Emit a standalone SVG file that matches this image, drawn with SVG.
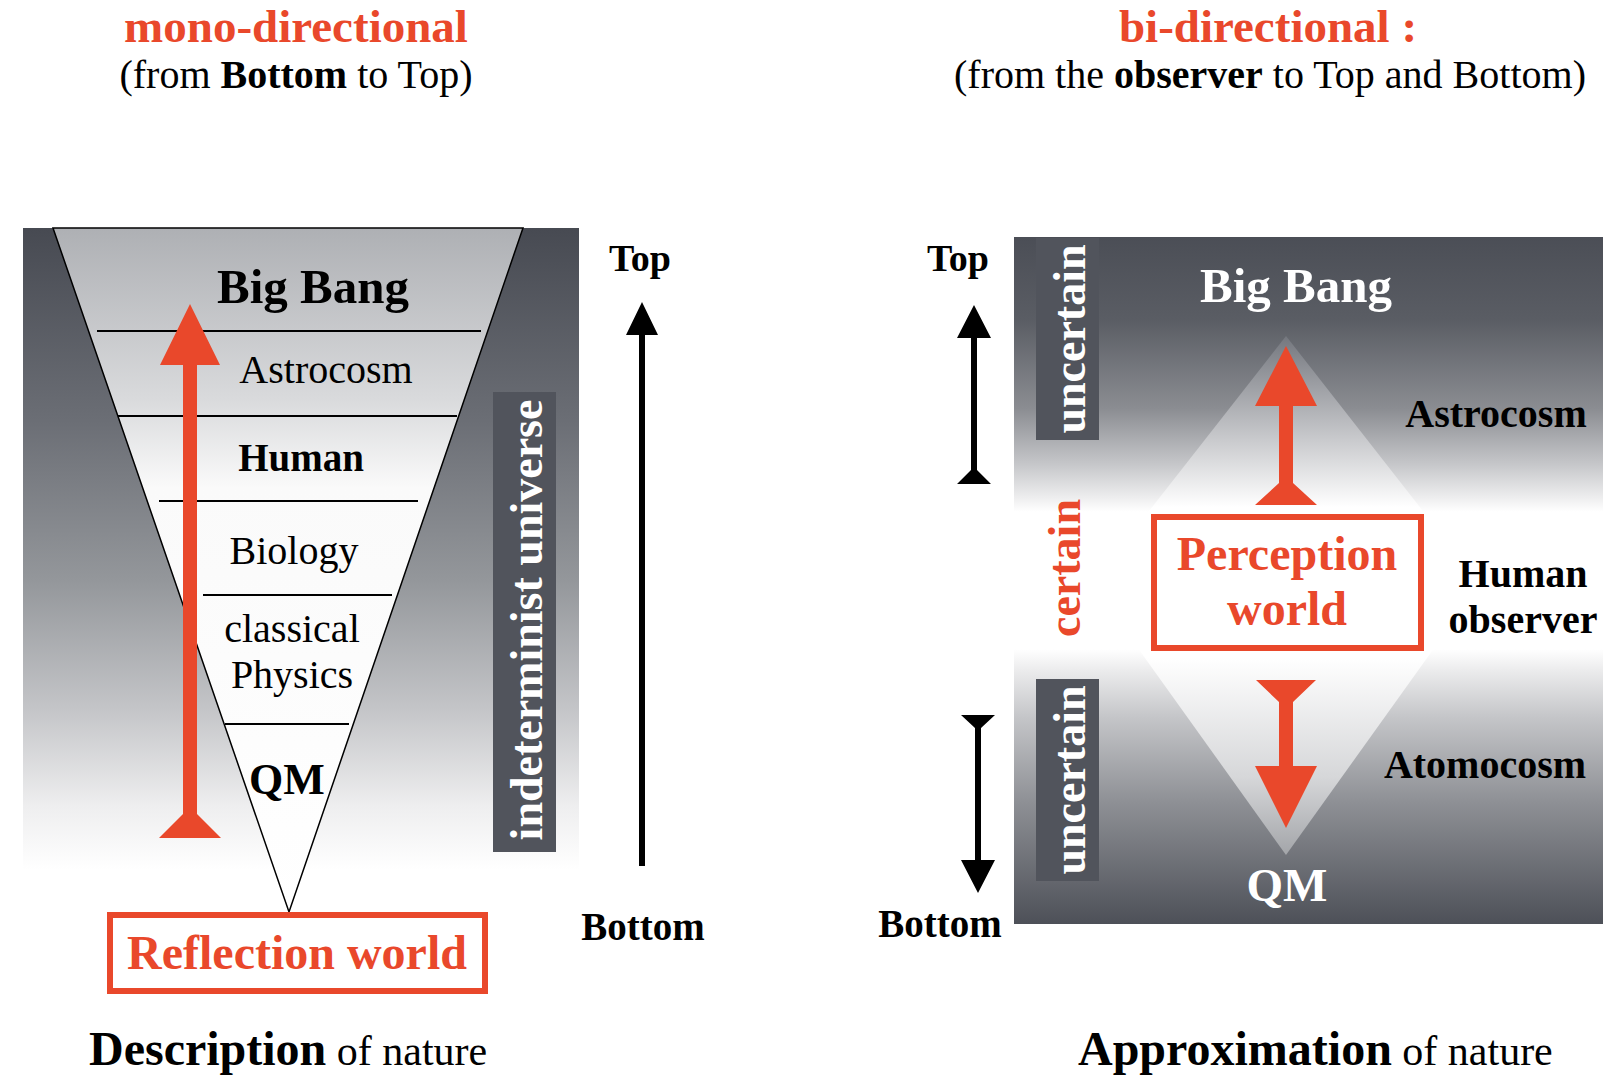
<svg xmlns="http://www.w3.org/2000/svg" width="1606" height="1075" viewBox="0 0 1606 1075">
<style>
text{font-family:"Liberation Serif","Times New Roman",serif;fill:#000}
.b{font-weight:bold}
.red{fill:#e9482b}
.wht{fill:#fff}
.mid{text-anchor:middle}
.lbl{font-size:40px}
.sub{font-size:40px}
.big{font-size:48px}
.ttl{font-size:47px}
.gbox{fill:#51545c}
.hline{stroke:#000;stroke-width:2}
.rbox{fill:#fff;stroke:#e9482b;stroke-width:6}
.rarrow{fill:#e9482b}
.karrow{fill:#000}
</style>
<defs>
<linearGradient id="gLeft" gradientUnits="userSpaceOnUse" x1="0" y1="228" x2="0" y2="870">
<stop offset="0" stop-color="#474a52"/>
<stop offset="0.3" stop-color="#6b6e75"/>
<stop offset="0.55" stop-color="#94979b"/>
<stop offset="0.75" stop-color="#c4c5c8"/>
<stop offset="0.9" stop-color="#eeeeef"/>
<stop offset="1" stop-color="#ffffff"/>
</linearGradient>
<linearGradient id="gFunnel" gradientUnits="userSpaceOnUse" x1="0" y1="228" x2="0" y2="912">
<stop offset="0" stop-color="#aeb0b4"/>
<stop offset="0.25" stop-color="#d9dadc"/>
<stop offset="0.38" stop-color="#fafafa"/>
<stop offset="1" stop-color="#ffffff"/>
</linearGradient>
<linearGradient id="gRight" gradientUnits="userSpaceOnUse" x1="0" y1="237" x2="0" y2="924">
<stop offset="0" stop-color="#4b4e56"/>
<stop offset="0.12" stop-color="#5a5d64"/>
<stop offset="0.25" stop-color="#8b8d92"/>
<stop offset="0.33" stop-color="#c5c6c9"/>
<stop offset="0.38" stop-color="#eeeeef"/>
<stop offset="0.4" stop-color="#ffffff"/>
<stop offset="0.6" stop-color="#ffffff"/>
<stop offset="0.63" stop-color="#ececed"/>
<stop offset="0.7" stop-color="#c4c5c8"/>
<stop offset="0.82" stop-color="#8f9196"/>
<stop offset="1" stop-color="#4d5058"/>
</linearGradient>
<linearGradient id="gDiamond" gradientUnits="userSpaceOnUse" x1="0" y1="336" x2="0" y2="855">
<stop offset="0" stop-color="#74777e"/>
<stop offset="0.2" stop-color="#c9cacd"/>
<stop offset="0.33" stop-color="#ffffff"/>
<stop offset="0.62" stop-color="#ffffff"/>
<stop offset="0.85" stop-color="#d6d7d9"/>
<stop offset="1" stop-color="#a3a5a9"/>
</linearGradient>
</defs>
<rect width="1606" height="1075" fill="#fff"/>

<!-- titles -->
<g id="title-left">
<text x="296" y="42" class="b red mid ttl">mono-directional</text>
<text x="296" y="88" class="mid sub">(from <tspan class="b">Bottom</tspan> to Top)</text>
</g>
<g id="title-right">
<text x="1268" y="42" class="b red mid ttl">bi-directional :</text>
<text x="1270" y="88" class="mid sub">(from the <tspan class="b">observer</tspan> to Top and Bottom)</text>
</g>

<!-- left panel -->
<g id="left-panel">
<rect x="23" y="228" width="556" height="642" fill="url(#gLeft)"/>
<polygon points="53,228 523,228 289,912" fill="url(#gFunnel)" stroke="#000" stroke-width="1.5"/>
<line class="hline" x1="97" y1="331" x2="481" y2="331"/>
<line class="hline" x1="118" y1="416" x2="457" y2="416"/>
<line class="hline" x1="159" y1="501" x2="418" y2="501"/>
<line class="hline" x1="203" y1="595" x2="392" y2="595"/>
<line class="hline" x1="225" y1="724" x2="349" y2="724"/>
</g>
<g id="left-bigbang"><text x="313" y="303" class="b mid" font-size="49">Big Bang</text></g>
<g id="left-astrocosm"><text x="326" y="383" class="mid lbl">Astrocosm</text></g>
<g id="left-human"><text x="301" y="471" class="b mid" font-size="39">Human</text></g>
<g id="left-biology"><text x="294" y="564" class="mid lbl">Biology</text></g>
<g id="left-physics"><text x="292" y="642" class="mid lbl">classical</text><text x="292" y="688" class="mid lbl">Physics</text></g>
<g id="left-qm"><text x="287" y="794" class="b mid" font-size="44">QM</text></g>
<g id="indeterminist">
<rect class="gbox" x="493" y="392" width="63" height="460"/>
<text transform="translate(542,620) rotate(-90)" class="b wht mid" font-size="46">indeterminist universe</text>
</g>
<g id="left-top"><text x="640" y="271" class="b mid" font-size="38">Top</text></g>
<g id="left-bottom"><text x="643" y="940" class="b mid" font-size="39">Bottom</text></g>
<g id="reflection-world">
<rect class="rbox" x="110" y="915" width="375" height="76"/>
<text x="297" y="969" class="b red mid big">Reflection world</text>
</g>
<g id="description"><text x="89" y="1065" font-size="48" class="b">Description<tspan font-weight="normal" font-size="42"> of nature</tspan></text></g>

<!-- right panel -->
<g id="right-panel">
<rect x="1014" y="237" width="589" height="687" fill="url(#gRight)"/>
<polygon points="1286,336 1092,584 1286,855 1480,584" fill="url(#gDiamond)"/>
</g>
<g id="uncertain-top">
<rect class="gbox" x="1036" y="238" width="63" height="202"/>
<text transform="translate(1085,339) rotate(-90)" class="b wht mid" font-size="46">uncertain</text>
</g>
<g id="uncertain-bottom">
<rect class="gbox" x="1036" y="679" width="63" height="202"/>
<text transform="translate(1085,780) rotate(-90)" class="b wht mid" font-size="46">uncertain</text>
</g>
<g id="certain"><text transform="translate(1080,568) rotate(-90)" class="b red mid" font-size="46">certain</text></g>
<g id="right-bigbang"><text x="1296" y="302" class="b wht mid" font-size="49">Big Bang</text></g>
<g id="right-astrocosm"><text x="1496" y="427" class="b mid lbl">Astrocosm</text></g>
<g id="human-observer"><text x="1523" y="587" class="b mid lbl">Human</text><text x="1523" y="633" class="b mid lbl">observer</text></g>
<g id="atomocosm"><text x="1485" y="778" class="b mid lbl">Atomocosm</text></g>
<g id="right-qm"><text x="1287" y="901" class="b wht mid" font-size="47">QM</text></g>
<g id="perception-world">
<rect class="rbox" x="1154" y="517" width="267" height="131"/>
<text x="1287" y="570" class="b red mid big">Perception</text>
<text x="1287" y="625" class="b red mid big">world</text>
</g>
<g id="right-top"><text x="958" y="271" class="b mid" font-size="38">Top</text></g>
<g id="right-bottom"><text x="940" y="937" class="b mid" font-size="39">Bottom</text></g>
<g id="approximation"><text x="1078" y="1065" font-size="48" class="b">Approximation<tspan font-weight="normal" font-size="42"> of nature</tspan></text></g>

<!-- connectors -->
<g id="connectors">
<path class="rarrow" d="M190,304 L220,365 L197,365 L197,814 L221,838 L159,838 L183,814 L183,365 L160,365 Z"/>
<path class="karrow" d="M642,302 L658,335 L645,335 L645,866 L639,866 L639,335 L626,335 Z"/>
<path class="rarrow" d="M1286,346 L1317,406 L1293,406 L1293,483 L1317,505 L1255,505 L1279,483 L1279,406 L1255,406 Z"/>
<path class="rarrow" d="M1256,680 L1316,680 L1293,702 L1293,766 L1317,766 L1286,828 L1255,766 L1279,766 L1279,702 Z"/>
<path class="karrow" d="M974,305 L991,338 L977,338 L977,470 L991,484 L957,484 L971,470 L971,338 L957,338 Z"/>
<path class="karrow" d="M961,715 L995,715 L981,728 L981,860 L995,860 L978,893 L961,860 L975,860 L975,728 Z"/>
</g>
</svg>
